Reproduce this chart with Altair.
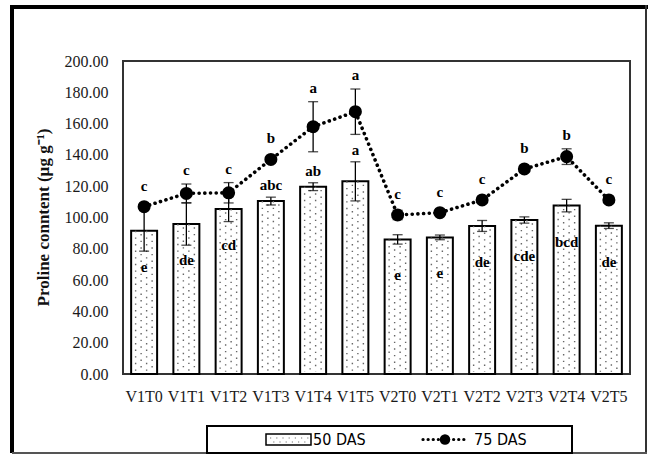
import altair as alt
import pandas as pd

# Proline content of genotype x treatment combinations at two sampling dates
treatments = ["V1T0", "V1T1", "V1T2", "V1T3", "V1T4", "V1T5",
              "V2T0", "V2T1", "V2T2", "V2T3", "V2T4", "V2T5"]
das50 = [91.5, 95.8, 105.4, 110.5, 119.7, 123.1, 86.0, 87.3, 94.6, 98.4, 107.6, 94.8]
das50_err = [13.0, 13.5, 8.0, 2.5, 2.5, 12.5, 3.0, 1.5, 3.5, 2.0, 4.0, 1.8]
das50_letters = ["e", "de", "cd", "abc", "ab", "a", "e", "e", "de", "cde", "bcd", "de"]
das75 = [106.9, 115.4, 115.8, 137.1, 158.0, 167.6, 101.6, 103.1, 111.2, 131.0, 138.9, 111.2]
das75_err = [2.0, 6.0, 6.5, 2.0, 16.0, 14.5, 3.0, 1.0, 1.0, 1.0, 5.0, 1.0]
das75_letters = ["c", "c", "c", "b", "a", "a", "c", "c", "c", "b", "b", "c"]
y_ticks = [0, 20, 40, 60, 80, 100, 120, 140, 160, 180, 200]

df = pd.DataFrame({
    "trt": treatments,
    "v50": das50, "e50": das50_err, "l50": das50_letters,
    "v75": das75, "e75": das75_err, "l75": das75_letters,
})

SERIF = "Liberation Serif"
LEG_FONT = "DejaVu Sans Condensed"

x = alt.X("trt:N", sort=treatments,
          scale=alt.Scale(paddingInner=0.385, paddingOuter=0.1925),
          axis=alt.Axis(title=None, labelAngle=0, ticks=False, domain=False,
                        labelFont=SERIF, labelFontSize=16, labelColor="#1a1a1a",
                        labelPadding=14, labelOverlap=False))
yscale = alt.Scale(domain=[0, 200], nice=False)
yaxis = alt.Axis(values=y_ticks, format=".2f", grid=False, ticks=False,
                 domain=False, labelFont=SERIF, labelFontSize=16,
                 labelColor="#1a1a1a", labelPadding=15,
                 labelOverlap=False, labelBound=False,
                 title="Proline conntent (µg g⁻¹)", titleFont=SERIF,
                 titleFontSize=17, titleFontWeight="bold",
                 titleColor="#111", titleX=-80, titleY=156,
                 titleAngle=270, titleAlign="center",
                 titleBaseline="middle")


def Y(field):
    return alt.Y(field, scale=yscale, axis=yaxis)


base = alt.Chart(df)

bars = base.mark_bar(fill="white", stroke="black", strokeWidth=2).encode(
    x=x, y=Y("v50:Q"))

# stippled fill: staggered dotted columns inside each bar
stipple = []
for i, off in enumerate([-8.5, -3, 2.5, 8]):
    stipple.append(base.mark_rule(
        xOffset=off, color="#666", strokeWidth=1.4,
        strokeDash=[1.4, 5.2], strokeDashOffset=0 if i % 2 == 0 else 3.3,
    ).encode(x=x, y=Y("v50:Q"), y2=alt.datum(1.5)))

err50 = base.transform_calculate(
    lo="datum.v50 - datum.e50", hi="datum.v50 + datum.e50")
err50_line = err50.mark_rule(color="black", strokeWidth=1.3).encode(
    x=x, y=Y("lo:Q"), y2="hi:Q")
err50_lo = err50.mark_tick(color="black", size=10, thickness=1.3).encode(
    x=x, y=Y("lo:Q"))
err50_hi = err50.mark_tick(color="black", size=10, thickness=1.3).encode(
    x=x, y=Y("hi:Q"))

line75 = base.mark_line(color="black", strokeWidth=3.6, strokeCap="round",
                        strokeDash=[0.1, 5.6]).encode(x=x, y=Y("v75:Q"))

err75 = base.transform_calculate(
    lo="datum.v75 - datum.e75", hi="datum.v75 + datum.e75")
err75_line = err75.mark_rule(color="black", strokeWidth=1.3).encode(
    x=x, y=Y("lo:Q"), y2="hi:Q")
err75_lo = err75.mark_tick(color="black", size=10, thickness=1.3).encode(
    x=x, y=Y("lo:Q"))
err75_hi = err75.mark_tick(color="black", size=10, thickness=1.3).encode(
    x=x, y=Y("hi:Q"))

dots75 = base.mark_circle(color="black", opacity=1, size=170).encode(
    x=x, y=Y("v75:Q"))

# significance letters
lab_style = dict(font=SERIF, fontSize=15, fontWeight="bold", color="black",
                 baseline="middle")
lab75 = base.transform_calculate(
    ly="max(datum.v75 + datum.e75, datum.v75 + 4.5)"
).mark_text(dy=-14, **lab_style).encode(x=x, y=Y("ly:Q"), text="l75:N")
lab50_above = base.transform_filter("indexof(datum.l50, 'a') >= 0").transform_calculate(
    ly="datum.v50 + datum.e50"
).mark_text(dy=-12, **lab_style).encode(x=x, y=Y("ly:Q"), text="l50:N")
lab50_inside = base.transform_filter("indexof(datum.l50, 'a') < 0").mark_text(
    dy=36, **lab_style).encode(x=x, y=Y("v50:Q"), text="l50:N")

# outer figure frame and legend box
one = pd.DataFrame({"k": [0]})
deco = alt.Chart(one)
frame = [
    deco.mark_rule(color="black", strokeWidth=4).encode(
        x=alt.value(-111), y=alt.value(-56), y2=alt.value(392)),
    deco.mark_rule(color="black", strokeWidth=4).encode(
        x=alt.value(-113), x2=alt.value(525), y=alt.value(-54)),
    deco.mark_rule(color="#333", strokeWidth=2).encode(
        x=alt.value(523), y=alt.value(-56), y2=alt.value(392)),
    deco.mark_rule(color="#555", strokeWidth=2).encode(
        x=alt.value(-111), x2=alt.value(524), y=alt.value(392)),
]
legend = [
    deco.mark_rect(fill="white", stroke="black", strokeWidth=2).encode(
        x=alt.value(84), x2=alt.value(449), y=alt.value(365), y2=alt.value(392)),
    deco.mark_rect(fill="white", stroke="black", strokeWidth=1.5).encode(
        x=alt.value(143), x2=alt.value(188), y=alt.value(373), y2=alt.value(384)),
    deco.mark_rule(color="#777", strokeWidth=1.2, strokeDash=[1.2, 5]).encode(
        x=alt.value(147), x2=alt.value(186), y=alt.value(377)),
    deco.mark_rule(color="#777", strokeWidth=1.2, strokeDash=[1.2, 5],
                   strokeDashOffset=3).encode(
        x=alt.value(147), x2=alt.value(186), y=alt.value(381)),
    deco.mark_text(text="50 DAS", font=LEG_FONT, fontSize=16, align="left",
                   baseline="middle", color="black").encode(
        x=alt.value(190), y=alt.value(378.5)),
    deco.mark_rule(color="black", strokeWidth=3.2, strokeCap="round",
                   strokeDash=[0.1, 5]).encode(
        x=alt.value(300), x2=alt.value(344), y=alt.value(378.5)),
    deco.mark_circle(color="black", opacity=1, size=110).encode(
        x=alt.value(322), y=alt.value(378.5)),
    deco.mark_text(text="75 DAS", font=LEG_FONT, fontSize=16, align="left",
                   baseline="middle", color="black").encode(
        x=alt.value(351), y=alt.value(378.5)),
]

chart = alt.layer(
    bars, *stipple, err50_line, err50_lo, err50_hi,
    line75, err75_line, err75_lo, err75_hi, dots75,
    lab75, lab50_above, lab50_inside, *frame, *legend,
).properties(
    width=507, height=313,
    autosize=alt.AutoSizeParams(type="none"),
    padding={"left": 123, "top": 61, "right": 19, "bottom": 80},
    background="white",
).configure_view(stroke="#333", strokeWidth=2)

chart.save("out.html", embed_options={"renderer": "svg", "actions": False})
